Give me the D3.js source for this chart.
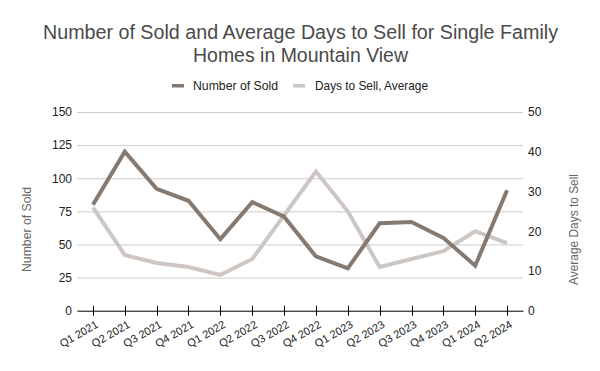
<!DOCTYPE html>
<html><head><meta charset="utf-8">
<script src="https://cdn.jsdelivr.net/npm/d3@7"></script>
<style>body{margin:0;background:#fff;} svg{display:block;font-family:"Liberation Sans",Arial,sans-serif;}</style>
</head><body>
<svg id="c" width="600" height="371"></svg>
<script>
const categories = ["Q1 2021","Q2 2021","Q3 2021","Q4 2021","Q1 2022","Q2 2022","Q3 2022","Q4 2022","Q1 2023","Q2 2023","Q3 2023","Q4 2023","Q1 2024","Q2 2024"];
const numberSold = [80,120,92,83,54,82,71,41,32,66,67,55,34,91];
const daysToSell = [26,14,12,11,9,13,24,35,25,11,13,15,20,17];
const leftTicks = [0,25,50,75,100,125,150];
const rightTicks = [0,10,20,30,40,50];
const titleLines = ["Number of Sold and Average Days to Sell for Single Family","Homes in Mountain View"];
const seriesNames = ["Number of Sold","Days to Sell, Average"];
const colors = ["#857a72","#cdc6c2"];

const svg = d3.select("#c");
const m = {l:77, r:523, t:112, b:310.7};
const x = d3.scaleBand().domain(categories).range([m.l, m.r]);
const xc = d => x(d) + x.bandwidth()/2;
const yL = d3.scaleLinear().domain([0,150]).range([m.b, m.t]);
const yR = d3.scaleLinear().domain([0,50]).range([m.b, m.t]);

// title
const titleW = [515, 215];
svg.append("g").selectAll("text").data(titleLines).join("text")
  .attr("x",300.5).attr("y",(d,i)=>38.5+i*23.3).attr("text-anchor","middle")
  .attr("textLength",(d,i)=>titleW[i]).attr("lengthAdjust","spacingAndGlyphs")
  .attr("font-size",20).attr("fill","#4a4a4a").text(d=>d);

// legend
const leg = [{x:172,tx:193,w:85},{x:293,tx:315,w:113}];
seriesNames.forEach((n,i)=>{
  svg.append("rect").attr("x",leg[i].x).attr("y",84).attr("width",12).attr("height",3.5).attr("fill",colors[i]);
  svg.append("text").attr("x",leg[i].tx).attr("y",90.3).attr("font-size",13).attr("fill","#222")
    .attr("textLength",leg[i].w).attr("lengthAdjust","spacingAndGlyphs").text(n);
});

// gridlines
svg.append("g").selectAll("line").data(leftTicks.filter(t=>t>0)).join("line")
  .attr("x1",m.l).attr("x2",m.r).attr("y1",d=>yL(d)+0.5).attr("y2",d=>yL(d)+0.5)
  .attr("stroke","#cccccc").attr("stroke-width",1);

// left axis labels
svg.append("g").selectAll("text").data(leftTicks).join("text")
  .attr("x",72).attr("y",d=>yL(d)+4.3).attr("text-anchor","end")
  .attr("font-size",12).attr("fill","#222").text(d=>d);
// right axis labels
svg.append("g").selectAll("text").data(rightTicks).join("text")
  .attr("x",528).attr("y",d=>yR(d)+4.3).attr("text-anchor","start")
  .attr("font-size",12).attr("fill","#222").text(d=>d);

// axis titles
svg.append("text").attr("transform","translate(30.5,229.5) rotate(-90)").attr("text-anchor","middle")
  .attr("textLength",85).attr("lengthAdjust","spacingAndGlyphs")
  .attr("font-size",12).attr("fill","#666").text("Number of Sold");
svg.append("text").attr("transform","translate(578,229.5) rotate(-90)").attr("text-anchor","middle")
  .attr("textLength",111).attr("lengthAdjust","spacingAndGlyphs")
  .attr("font-size",12).attr("fill","#666").text("Average Days to Sell");

// x axis
const xa = svg.append("g").attr("transform",`translate(0,${yL(0)})`)
  .call(d3.axisBottom(x).tickSize(0).tickFormat(""));
xa.select(".domain").attr("stroke","#000").attr("stroke-width",1);
svg.append("g").selectAll("line").data(categories).join("line")
  .attr("x1",d=>Math.round(xc(d))+0.5).attr("x2",d=>Math.round(xc(d))+0.5)
  .attr("y1",yL(0)-5).attr("y2",yL(0)+5).attr("stroke","#000");
svg.append("g").selectAll("text").data(categories).join("text")
  .attr("transform",d=>`translate(${xc(d)+6},${yL(0)+16}) rotate(-30)`)
  .attr("text-anchor","end").attr("font-size",11).attr("fill","#222").text(d=>d);

// lines
const lineL = d3.line().x((d,i)=>xc(categories[i])).y(d=>yL(d));
const lineR = d3.line().x((d,i)=>xc(categories[i])).y(d=>yR(d));
svg.append("path").datum(daysToSell).attr("d",lineR).attr("fill","none")
  .attr("stroke",colors[1]).attr("stroke-width",4).attr("stroke-linejoin","miter");
svg.append("path").datum(numberSold).attr("d",lineL).attr("fill","none")
  .attr("stroke",colors[0]).attr("stroke-width",4).attr("stroke-linejoin","miter");
</script>
</body></html>
